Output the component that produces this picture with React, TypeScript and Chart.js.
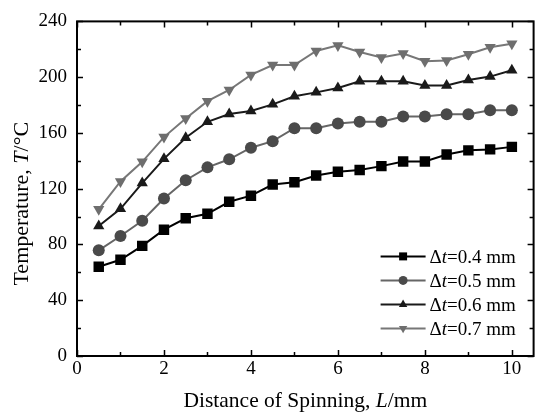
import React, { useEffect, useRef } from "react";
import { Chart, registerables } from "chart.js";

Chart.register(...registerables);

const distances = [0.5, 1, 1.5, 2, 2.5, 3, 3.5, 4, 4.5, 5, 5.5, 6, 6.5, 7, 7.5, 8, 8.5, 9, 9.5, 10];
const temp04 = [64, 69, 79, 90.6, 98.8, 102, 110.6, 115, 123, 124.7, 129.4, 132.2, 133.4, 136.2, 139.5, 139.5, 144.5, 147.5, 148.2, 150];
const temp05 = [75.8, 86.1, 97, 112.9, 126.1, 135.3, 141.1, 149.4, 154.1, 163.4, 163.3, 166.8, 168, 168, 171.8, 171.8, 173.4, 173.4, 176.2, 176.2];
const temp06 = [93.2, 105.6, 124, 141.4, 156.5, 168, 173.6, 175.7, 180.5, 186.3, 189.1, 192.2, 197.1, 197.1, 197.1, 194, 194, 197.9, 200.4, 204.9];
const temp07 = [105.2, 125.2, 139.3, 157, 170.4, 182.8, 190.8, 201.6, 208.7, 208.7, 218.8, 222.8, 218.1, 214.1, 216.9, 211.5, 212, 216.4, 221.4, 224];
const seriesLabels = ["0.4 mm", "0.5 mm", "0.6 mm", "0.7 mm"];
const xMajorTicks = [0, 2, 4, 6, 8, 10];
const xMinorTicks = [1, 3, 5, 7, 9];
const yMajorTicks = [0, 40, 80, 120, 160, 200, 240];
const yMinorTicks = [20, 60, 100, 140, 180, 220];

const FONT = "'Liberation Serif', 'Times New Roman', serif";

const styles = [
  { line: "#000000", fill: "#000000", shape: "rect" },
  { line: "#666666", fill: "#4a4a4a", shape: "circle" },
  { line: "#1a1a1a", fill: "#1a1a1a", shape: "triangle" },
  { line: "#777777", fill: "#6e6e6e", shape: "invtriangle" },
];

function drawMarker(ctx: CanvasRenderingContext2D, shape: string, x: number, y: number, s: number, color: string) {
  ctx.save();
  ctx.fillStyle = color;
  ctx.beginPath();
  if (shape === "rect") {
    ctx.rect(x - s, y - s, 2 * s, 2 * s);
  } else if (shape === "circle") {
    ctx.arc(x, y, s, 0, Math.PI * 2);
  } else if (shape === "triangle") {
    ctx.moveTo(x, y - s * 1.15);
    ctx.lineTo(x + s * 1.0, y + s * 0.6);
    ctx.lineTo(x - s * 1.0, y + s * 0.6);
    ctx.closePath();
  } else {
    ctx.moveTo(x, y + s * 1.15);
    ctx.lineTo(x + s * 1.0, y - s * 0.6);
    ctx.lineTo(x - s * 1.0, y - s * 0.6);
    ctx.closePath();
  }
  ctx.fill();
  ctx.restore();
}

function drawMixed(ctx: CanvasRenderingContext2D, parts: { t: string; i?: boolean }[], x: number, y: number, size: number, align: "left" | "center") {
  ctx.save();
  ctx.textBaseline = "alphabetic";
  ctx.textAlign = "left";
  let total = 0;
  const widths = parts.map((p) => {
    ctx.font = `${p.i ? "italic " : ""}${size}px ${FONT}`;
    const w = ctx.measureText(p.t).width;
    total += w;
    return w;
  });
  let cx = align === "center" ? x - total / 2 : x;
  parts.forEach((p, k) => {
    ctx.font = `${p.i ? "italic " : ""}${size}px ${FONT}`;
    ctx.fillStyle = "#000";
    ctx.fillText(p.t, cx, y);
    cx += widths[k];
  });
  ctx.restore();
}

const decorPlugin = {
  id: "decor",
  afterDraw(chart: any) {
    const ctx: CanvasRenderingContext2D = chart.ctx;
    const { left, right, top, bottom } = chart.chartArea;
    const xs = chart.scales.x;
    const ys = chart.scales.y;
    ctx.save();
    ctx.strokeStyle = "#000";
    ctx.lineWidth = 2;
    ctx.strokeRect(left, top, right - left, bottom - top);
    ctx.lineWidth = 1.5;
    ctx.beginPath();
    const tick = (vals: number[], len: number) => {
      vals.forEach((v) => {
        const px = Math.round(xs.getPixelForValue(v)) + 0.5;
        ctx.moveTo(px, bottom);
        ctx.lineTo(px, bottom - len);
        ctx.moveTo(px, top);
        ctx.lineTo(px, top + len);
      });
    };
    const ytick = (vals: number[], len: number) => {
      vals.forEach((v) => {
        const py = Math.round(ys.getPixelForValue(v)) + 0.5;
        ctx.moveTo(left, py);
        ctx.lineTo(left + len, py);
        ctx.moveTo(right, py);
        ctx.lineTo(right - len, py);
      });
    };
    tick(xMajorTicks, 6);
    tick(xMinorTicks, 4);
    ytick(yMajorTicks, 6);
    ytick(yMinorTicks, 4);
    ctx.stroke();
    ctx.restore();

    // axis titles
    drawMixed(
      ctx,
      [{ t: "Distance of Spinning, " }, { t: "L", i: true }, { t: "/mm" }],
      (left + right) / 2,
      bottom + 51,
      21.5,
      "center"
    );
    ctx.save();
    ctx.translate(28, (top + bottom) / 2 + 15);
    ctx.rotate(-Math.PI / 2);
    drawMixed(ctx, [{ t: "Temperature, " }, { t: "T", i: true }, { t: "/°C" }], 0, 0, 22, "center");
    ctx.restore();

    // legend
    const lx0 = right - 153;
    const lx1 = right - 108;
    const mx = (lx0 + lx1) / 2;
    const ty = top + 235;
    const sizes = [4, 4.5, 4.2, 4.2];
    seriesLabels.forEach((lab, k) => {
      const y = ty + k * 24;
      ctx.save();
      ctx.strokeStyle = styles[k].line;
      ctx.lineWidth = 2;
      ctx.beginPath();
      ctx.moveTo(lx0, y);
      ctx.lineTo(lx1, y);
      ctx.stroke();
      ctx.restore();
      drawMarker(ctx, styles[k].shape, mx, y, sizes[k], styles[k].fill);
      drawMixed(ctx, [{ t: "Δ" }, { t: "t", i: true }, { t: "=" + lab.replace(" mm", "") + " mm" }], lx1 + 4, y + 6.5, 19, "left");
    });
  },
};

export default function App() {
  const ref = useRef<HTMLCanvasElement>(null);
  useEffect(() => {
    if (!ref.current) return;
    const series = [temp04, temp05, temp06, temp07];
    const pointStyles = ["rect", "circle", "triangle", "triangle"];
    const radii = [7.4, 6, 6.5, 6.5];
    const chart = new Chart(ref.current, {
      type: "line",
      data: {
        datasets: series.map((vals, k) => ({
          label: "Δt=" + seriesLabels[k],
          data: distances.map((d, i) => ({ x: d, y: vals[i] })),
          borderColor: styles[k].line,
          backgroundColor: styles[k].fill,
          pointBackgroundColor: styles[k].fill,
          pointBorderColor: styles[k].fill,
          pointBorderWidth: 0,
          pointStyle: pointStyles[k] as any,
          pointRotation: k === 3 ? 180 : 0,
          pointRadius: radii[k],
          borderWidth: 2,
          tension: 0,
          fill: false,
        })),
      },
      options: {
        animation: false,
        responsive: false,
        layout: { padding: { top: 15, right: 6, left: 0, bottom: 0 } },
        plugins: { legend: { display: false }, tooltip: { enabled: false } },
        scales: {
          x: {
            type: "linear",
            min: 0,
            max: 10.5,
            grid: { display: false, drawTicks: false },
            border: { display: false },
            ticks: {
              stepSize: 2,
              includeBounds: false,
              padding: 2,
              color: "#000",
              font: { family: FONT, size: 19 },
              maxRotation: 0,
              callback: (v: any) => (xMajorTicks.includes(Number(v)) ? String(v) : ""),
            },
            afterFit: (s: any) => {
              s.height = 62;
            },
          },
          y: {
            min: 0,
            max: 240,
            grid: { display: false, drawTicks: false },
            border: { display: false },
            ticks: {
              stepSize: 40,
              padding: 10,
              color: "#000",
              font: { family: FONT, size: 19 },
              callback: (v: any) => (yMajorTicks.includes(Number(v)) ? String(v) : ""),
            },
            afterFit: (s: any) => {
              s.width = 77;
            },
          },
        },
      },
      plugins: [decorPlugin],
    });
    return () => chart.destroy();
  }, []);
  return (
    <div style={{ position: "fixed", left: 0, top: 0, width: 541, height: 418, background: "#fff" }}>
      <canvas ref={ref} width={541} height={418} style={{ width: 541, height: 418, display: "block" }} />
    </div>
  );
}
